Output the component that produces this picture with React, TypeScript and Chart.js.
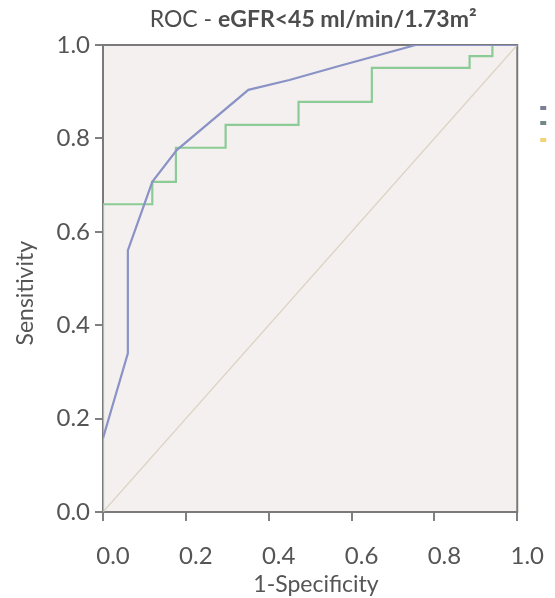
import React, { useEffect, useRef } from "react";
import { Chart, registerables } from "chart.js";

Chart.register(...registerables);

// ---- data ----
const xTickValues = [0, 0.2, 0.4, 0.6, 0.8, 1.0];
const yTickValues = [0, 0.2, 0.4, 0.6, 0.8, 1.0];

// blue ROC curve
const blueFpr = [0, 0.06, 0.06, 0.119, 0.178, 0.351, 0.45, 0.57, 0.755, 1.0];
const blueTpr = [0.158, 0.34, 0.56, 0.707, 0.775, 0.904, 0.925, 0.955, 1.0, 1.0];

// green ROC curve (step)
const greenFpr = [0, 0, 0.119, 0.176, 0.296, 0.472, 0.649, 0.885, 0.94, 1.0];
const greenTpr = [0, 0.659, 0.707, 0.78, 0.829, 0.878, 0.951, 0.976, 1.0, 1.0];

// reference line
const refFpr = [0, 1];
const refTpr = [0, 1];

const titleNormal = "ROC - ";
const titleBold = "eGFR<45 ml/min/1.73m²";
const xTitle = "1-Specificity";
const yTitle = "Sensitivity";

const legendColors = ["#7c8096", "#6f8a86", "#f2d27a"];

const FONT = "Lato, 'Open Sans', sans-serif";
const TEXT = "#555555";

const toPts = (xs: number[], ys: number[]) => xs.map((x, i) => ({ x, y: ys[i] }));

const framePlugin = {
  id: "frame",
  beforeDraw(chart: any) {
    const { ctx, chartArea: a } = chart;
    ctx.save();
    ctx.fillStyle = "#f3f0ef";
    ctx.fillRect(a.left, a.top, a.right - a.left, a.bottom - a.top);
    ctx.restore();
  },
  beforeDatasetsDraw(chart: any) {
    const { ctx, chartArea: a } = chart;
    ctx.save();
    ctx.strokeStyle = "#7a7a7a";
    ctx.lineWidth = 2;
    ctx.strokeRect(a.left, a.top, a.right - a.left, a.bottom - a.top);
    ctx.restore();
  },
  afterDraw(chart: any) {
    const { ctx, chartArea: a } = chart;
    ctx.save();
    // title with mixed weights
    const size = 23;
    ctx.textBaseline = "middle";
    ctx.fillStyle = "#4d4d4d";
    ctx.font = `${size}px ${FONT}`;
    const w1 = ctx.measureText(titleNormal).width;
    ctx.font = `bold ${size}px ${FONT}`;
    const w2 = ctx.measureText(titleBold).width;
    const cx = (a.left + a.right) / 2 + 3;
    const x0 = cx - (w1 + w2) / 2;
    const ty = 20;
    ctx.font = `${size}px ${FONT}`;
    ctx.textAlign = "left";
    ctx.fillText(titleNormal, x0, ty);
    ctx.font = `bold ${size}px ${FONT}`;
    ctx.fillText(titleBold, x0 + w1, ty);
    // clipped legend markers at the right edge
    const ly = [108, 123, 140];
    legendColors.forEach((c, i) => {
      ctx.fillStyle = c;
      ctx.fillRect(a.right + 23, ly[i] - 2, 6, 4);
    });
    ctx.restore();
  },
};

export default function App() {
  const ref = useRef<HTMLCanvasElement | null>(null);

  useEffect(() => {
    if (!ref.current) return;
    const chart = new Chart(ref.current, {
      type: "scatter",
      data: {
        datasets: [
          {
            label: "Curve A",
            data: toPts(blueFpr, blueTpr),
            showLine: true,
            borderColor: "#8a92c6",
            borderWidth: 2.2,
            pointRadius: 0,
            tension: 0,
          },
          {
            label: "Curve B",
            data: toPts(greenFpr, greenTpr),
            showLine: true,
            stepped: true,
            borderColor: "#8ccb95",
            borderWidth: 2.2,
            pointRadius: 0,
          },
          {
            label: "Reference Line",
            data: toPts(refFpr, refTpr),
            showLine: true,
            borderColor: "#ddd3c2",
            borderWidth: 1.3,
            pointRadius: 0,
          },
        ],
      },
      options: {
        responsive: false,
        animation: false,
        layout: { padding: { top: 45, right: 28, bottom: 0, left: 0 } },
        plugins: {
          legend: { display: false },
          tooltip: { enabled: false },
          title: { display: false },
        },
        scales: {
          x: {
            type: "linear",
            min: 0,
            max: 1,
            afterBuildTicks: (s: any) => {
              s.ticks = xTickValues.map((v) => ({ value: v }));
            },
            afterFit: (s: any) => {
              s.height = 86;
            },
            ticks: {
              labelOffset: 10,
              padding: 21,
              maxRotation: 0,
              autoSkip: false,
              color: TEXT,
              font: { family: FONT, size: 24 },
              callback: (v: any) => Number(v).toFixed(1),
            },
            grid: {
              display: true,
              drawOnChartArea: false,
              drawTicks: true,
              tickLength: 9,
              color: "#808080",
              lineWidth: 2,
            },
            border: { display: false },
            title: {
              display: true,
              text: "  " + xTitle,
              color: TEXT,
              font: { family: FONT, size: 23 },
              padding: { top: 0, bottom: 0 },
            },
          },
          y: {
            type: "linear",
            min: 0,
            max: 1,
            afterBuildTicks: (s: any) => {
              s.ticks = yTickValues.map((v) => ({ value: v }));
            },
            afterFit: (s: any) => {
              s.width = 103;
            },
            ticks: {
              padding: 5,
              color: TEXT,
              font: { family: FONT, size: 24 },
              callback: (v: any) => Number(v).toFixed(1),
            },
            grid: {
              display: true,
              drawOnChartArea: false,
              drawTicks: true,
              tickLength: 8,
              color: "#808080",
              lineWidth: 2,
            },
            border: { display: false },
            title: {
              display: true,
              text: yTitle + "     ",
              color: TEXT,
              font: { family: FONT, size: 23 },
              padding: { top: 12, bottom: 0 },
            },
          },
        },
      },
      plugins: [framePlugin],
    } as any);
    return () => chart.destroy();
  }, []);

  return (
    <div style={{ position: "fixed", left: 0, top: 0, width: 555, height: 598, background: "#ffffff" }}>
      <canvas ref={ref} width={555} height={598} style={{ width: 555, height: 598, display: "block" }} />
    </div>
  );
}
